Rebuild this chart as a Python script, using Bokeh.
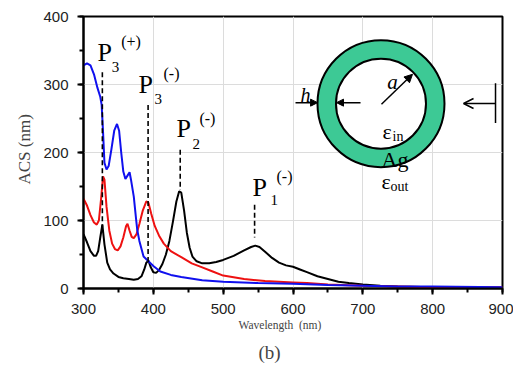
import numpy as np
from bokeh.plotting import figure
from bokeh.models import (Range1d, SingleIntervalTicker, Label, Arrow, NormalHead, OpenHead, Title)
from bokeh.embed import file_html
from bokeh.resources import INLINE

# ---------------- data ----------------
blue_wl = [300, 305, 310, 315, 320, 324, 326, 328, 330, 333, 336, 340, 344, 348, 351, 354, 357, 360,
           363, 366, 368, 372, 375, 377, 380, 386, 393, 400, 410, 425, 440, 470, 500, 550, 600, 650,
           700, 750, 800, 900]
blue_acs = [328, 331, 328, 315, 295, 282, 270, 230, 185, 175, 180, 205, 232, 242, 232, 200, 172, 161,
            166, 171, 160, 135, 105, 86, 70, 47, 40, 33, 25, 20, 17, 12, 10, 8, 7, 5,
            4, 3, 3, 2]

red_wl = [300, 305, 310, 315, 319, 322, 325, 328, 330, 333, 337, 341, 345, 349, 353, 357, 361, 363,
          366, 369, 372, 376, 380, 385, 390, 393, 397, 402, 408, 415, 425, 440, 455, 470, 485, 500,
          530, 560, 600, 620, 650, 700, 750, 800, 900]
red_acs = [132, 122, 108, 97, 94, 100, 130, 165, 160, 120, 85, 66, 58, 56, 62, 75, 92, 95,
           85, 76, 74, 80, 95, 115, 128, 126, 110, 92, 78, 66, 55, 46, 37, 31, 25, 19,
           14, 11, 9, 8, 6, 4, 3, 2, 2]

black_wl = [300, 305, 310, 315, 318, 321, 324, 327, 330, 334, 338, 343, 350, 357, 365, 372, 378, 383,
            387, 390, 393, 396, 400, 404, 408, 413, 418, 423, 428, 433, 437, 440, 444, 448, 452, 456,
            462, 470, 480, 490, 500, 515, 530, 540, 546, 552, 560, 570, 580, 590, 600, 610, 620, 635,
            650, 665, 680, 700, 725, 750, 800, 900]
black_acs = [80, 68, 55, 48, 48, 55, 75, 94, 65, 38, 28, 22, 17, 15, 14, 13, 14, 18,
             28, 38, 41, 32, 24, 23, 27, 36, 50, 70, 98, 128, 143, 141, 115, 82, 60, 47,
             40, 37, 37, 39, 42, 48, 56, 61, 63, 61, 54, 45, 38, 34, 32, 28, 24, 18,
             14, 10, 8, 6, 4, 3, 2, 1]

# peak markers (wavelength, top, bottom)
peak_wl = [327, 392.5, 438.5, 545]
peak_top = [318, 270, 204, 123]
peak_bot = [90, 38, 145, 75]

x_ticks = [300, 400, 500, 600, 700, 800, 900]
y_ticks = [0, 100, 200, 300, 400]

SERIF = "Liberation Serif"
SANS = "Liberation Sans"

p = figure(width=513, height=371, output_backend="svg", toolbar_location=None,
           x_range=Range1d(300, 900), y_range=Range1d(0, 400),
           min_border_left=83, min_border_right=11, min_border_top=16, min_border_bottom=82)
p.background_fill_color = "white"
p.border_fill_color = "white"
p.outline_line_color = "black"
p.outline_line_width = 2

for ax in (p.xaxis[0], p.yaxis[0]):
    ax.axis_line_width = 2
    ax.major_tick_line_width = 2
    ax.minor_tick_line_width = 2
    ax.major_tick_out = 6
    ax.major_tick_in = 0
    ax.minor_tick_out = 4
    ax.minor_tick_in = 0
    ax.major_label_text_font = SANS
    ax.major_label_text_font_size = "15px"
    ax.major_label_text_color = "#222222"
    ax.major_label_standoff = 9
p.xaxis.ticker = SingleIntervalTicker(interval=100, num_minor_ticks=2)
p.yaxis.ticker = SingleIntervalTicker(interval=100, num_minor_ticks=2)

p.xgrid.grid_line_color = "#dcdcdc"
p.ygrid.grid_line_color = "#dcdcdc"

p.line(black_wl, black_acs, line_color="black", line_width=2)
p.line(red_wl, red_acs, line_color="#ee1111", line_width=2)
p.line(blue_wl, blue_acs, line_color="#1010ee", line_width=2)

p.segment(x0=peak_wl, y0=peak_top, x1=peak_wl, y1=peak_bot, line_color="black",
          line_width=1.6, line_dash="5 3")

def lab(x, y, t, size, font=SERIF, style="normal", align="left", angle=0.0):
    p.add_layout(Label(x=x, y=y, text=t, text_font=font, text_font_size=size,
                       text_font_style=style, text_align=align, text_baseline="middle",
                       angle=angle, text_color="black"))

# peak labels
lab(320, 347, "P", "26px")
lab(340.5, 326, "3", "15px")
lab(354, 363, "(+)", "16px")

lab(378.8, 300, "P", "26px")
lab(401.7, 278, "3", "15px")
lab(414.6, 316, "(-)", "16px")

lab(433.2, 236, "P", "26px")
lab(456, 212, "2", "15px")
lab(466, 250, "(-)", "16px")

lab(542, 149, "P", "26px")
lab(567.8, 130, "1", "15px")
lab(576.4, 164, "(-)", "16px")

# inset: silver nanoshell
ring_x = [726]
ring_y = [271.8]
p.scatter(ring_x, ring_y, size=127, marker="circle", fill_color="#3dc995",
          line_color="black", line_width=2)
p.scatter(ring_x, ring_y, size=90, marker="circle", fill_color="white",
          line_color="black", line_width=2)

p.add_layout(Arrow(x_start=603.6, y_start=273.3, x_end=635.2, y_end=273.3, line_width=1.5,
                   end=NormalHead(size=7, fill_color="black", line_color="black")))
p.add_layout(Arrow(x_start=696.7, y_start=273.3, x_end=662.3, y_end=273.3, line_width=1.5,
                   end=NormalHead(size=7, fill_color="black", line_color="black")))
p.add_layout(Arrow(x_start=726.7, y_start=271, x_end=771.1, y_end=315, line_width=1.5,
                   end=NormalHead(size=8, fill_color="black", line_color="black")))
p.add_layout(Arrow(x_start=890, y_start=272, x_end=844.2, y_end=272, line_width=1.5,
                   end=OpenHead(size=10, line_color="black", line_width=1.5)))
p.segment(x0=[890], y0=[301.8], x1=[890], y1=[243.2], line_color="black", line_width=1.5)

lab(617.9, 285, "h", "20px", style="italic", align="center")
lab(742.5, 304, "a", "21px", style="italic", align="center")
lab(734.6, 231.5, "ε", "22px", align="center")
lab(742.5, 223.4, "in", "14px")
lab(746, 190, "Ag", "22px", align="center")
lab(733.2, 157, "ε", "22px", align="center")
lab(739.6, 149.5, "out", "14px")

# axis titles as Titles (outside the frame)
p.add_layout(Title(text="Wavelength\u00a0\u00a0(nm)", align="left", offset=155,
                   text_font=SERIF, text_font_size="11.5px", text_font_style="normal",
                   standoff=0), "below")
p.add_layout(Title(text="(b)", align="left", offset=175,
                   text_font=SERIF, text_font_size="19px", text_font_style="normal",
                   standoff=18), "below")
p.add_layout(Title(text="ACS (nm)", align="left", offset=104,
                   text_font=SERIF, text_font_size="17px", text_font_style="normal",
                   standoff=14), "left")

open("out.html", "w").write(file_html(p, INLINE))
